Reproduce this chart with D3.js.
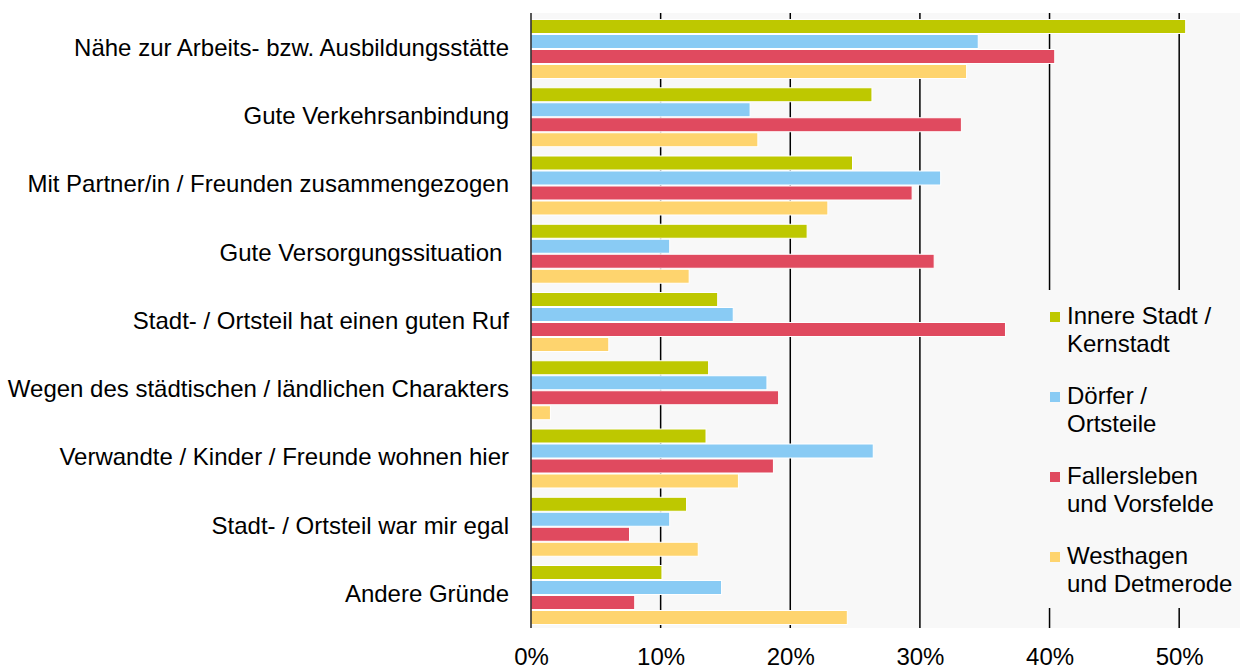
<!DOCTYPE html>
<html>
<head>
<meta charset="utf-8">
<script src="https://cdn.jsdelivr.net/npm/d3@7"></script>
<style>
  html, body { margin: 0; padding: 0; background: #fff; }
  svg { display: block; font-family: "Liberation Sans", Arial, sans-serif; }
</style>
</head>
<body>
<svg id="chart" width="1240" height="670"></svg>
<script>
const categories = [
  "Nähe zur Arbeits- bzw. Ausbildungsstätte",
  "Gute Verkehrsanbindung",
  "Mit Partner/in / Freunden zusammengezogen",
  "Gute Versorgungssituation ",
  "Stadt- / Ortsteil hat einen guten Ruf",
  "Wegen des städtischen / ländlichen Charakters",
  "Verwandte / Kinder / Freunde wohnen hier",
  "Stadt- / Ortsteil war mir egal",
  "Andere Gründe"
];
const seriesNames = [
  ["Innere Stadt /", "Kernstadt"],
  ["Dörfer /", "Ortsteile"],
  ["Fallersleben", "und Vorsfelde"],
  ["Westhagen", "und Detmerode"]
];
const innereStadt = [50.5, 26.3, 24.8, 21.3, 14.4, 13.7, 13.5, 12.0, 10.1];
const doerfer     = [34.5, 16.9, 31.6, 10.7, 15.6, 18.2, 26.4, 10.7, 14.7];
const fallersleben= [40.4, 33.2, 29.4, 31.1, 36.6, 19.1, 18.7, 7.6, 8.0];
const westhagen   = [33.6, 17.5, 22.9, 12.2, 6.0, 1.5, 16.0, 12.9, 24.4];
const tickValues = [0, 10, 20, 30, 40, 50];
const colors = ["#bec800", "#89cbf4", "#e04a5f", "#fed46e"];

const seriesValues = [innereStadt, doerfer, fallersleben, westhagen];

const svg = d3.select("#chart");
const plot = { left: 531, top: 13, right: 1244, bottom: 628 };

const x = d3.scaleLinear().domain([0, 55]).range([plot.left, plot.right]);
const y0 = d3.scaleBand().domain(categories).range([19, 625]).paddingInner(0.121).paddingOuter(0);
const y1 = d3.scaleBand().domain(d3.range(4)).range([0, y0.bandwidth()]).padding(0);

// background
svg.append("rect")
  .attr("x", plot.left).attr("y", plot.top)
  .attr("width", plot.right - plot.left).attr("height", plot.bottom - plot.top)
  .attr("fill", "#f8f8f8");

// gridlines
svg.append("g").selectAll("line")
  .data(tickValues.filter(d => d > 0))
  .join("line")
  .attr("x1", d => x(d)).attr("x2", d => x(d))
  .attr("y1", plot.top).attr("y2", plot.bottom)
  .attr("stroke", "#000").attr("stroke-width", 1.5);

// bars
const groups = svg.append("g").selectAll("g")
  .data(categories)
  .join("g")
  .attr("transform", d => `translate(0,${y0(d)})`);

groups.selectAll("rect")
  .data((c, i) => seriesValues.map((s, k) => ({ k, v: s[i] })))
  .join("rect")
  .attr("x", x(0))
  .attr("y", d => y1(d.k) + 0.5)
  .attr("width", d => x(d.v) - x(0))
  .attr("height", y1.bandwidth() - 1)
  .attr("fill", d => colors[d.k])
  .attr("stroke", "#fff")
  .attr("stroke-width", 1);

// left axis line
svg.append("line")
  .attr("x1", plot.left).attr("x2", plot.left)
  .attr("y1", plot.top).attr("y2", plot.bottom)
  .attr("stroke", "#000").attr("stroke-width", 1.3);

// category labels
svg.append("g").selectAll("text")
  .data(categories)
  .join("text")
  .attr("x", 509)
  .attr("y", d => y0(d) + y0.bandwidth() / 2)
  .attr("dy", "0.29em")
  .attr("text-anchor", "end")
  .attr("font-size", 24)
  .attr("fill", "#000")
  .style("white-space", "pre")
  .text(d => d);

// x axis
const xAxis = d3.axisBottom(x).tickValues(tickValues).tickFormat(d => d + "%").tickSize(0).tickPadding(0);
const gx = svg.append("g").attr("transform", `translate(0,${plot.bottom})`).call(xAxis);
gx.select(".domain").remove();
gx.selectAll("text")
  .attr("font-size", 24)
  .attr("font-family", "Liberation Sans, Arial, sans-serif")
  .attr("fill", "#000")
  .attr("y", 37)
  .attr("dy", 0);

// legend
svg.append("rect")
  .attr("x", 1040).attr("y", 290)
  .attr("width", 200).attr("height", 318)
  .attr("fill", "#f8f8f8");
const legend = svg.append("g").attr("transform", "translate(1050,0)");
const items = legend.selectAll("g")
  .data(seriesNames)
  .join("g")
  .attr("transform", (d, i) => `translate(0,${324 + i * 80})`);
items.append("rect")
  .attr("x", 0).attr("y", -12)
  .attr("width", 10).attr("height", 10)
  .attr("fill", (d, i) => colors[i]);
items.append("text")
  .attr("x", 17).attr("y", 0)
  .attr("font-size", 24)
  .attr("fill", "#000")
  .selectAll("tspan")
  .data(d => d)
  .join("tspan")
  .attr("x", 17)
  .attr("dy", (d, j) => j === 0 ? 0 : 28)
  .text(d => d);
</script>
</body>
</html>
